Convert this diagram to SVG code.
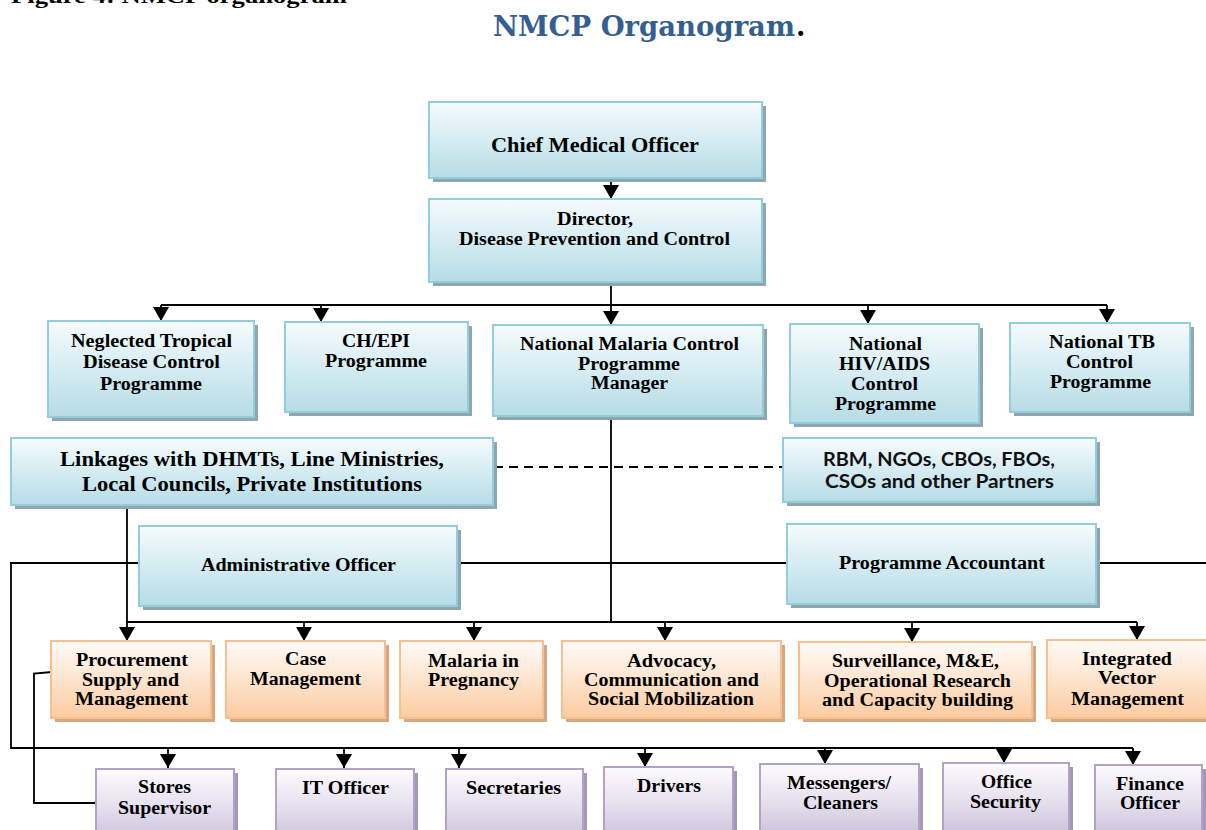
<svg xmlns="http://www.w3.org/2000/svg" width="1206" height="830" viewBox="0 0 1206 830">
<style>
.t{font-family:"Liberation Serif","Times New Roman",serif;font-weight:700;fill:#000}
.s{font-family:Lato,"Liberation Sans",sans-serif;font-weight:700;fill:#111}
.f18{font-size:18px}
.f20{font-size:20px}
.f21{font-size:20.5px}
.bb{fill:url(#gb);stroke:#93CDDD;stroke-width:2}
.bo{fill:url(#go);stroke:#F9BF8F;stroke-width:2}
.bp{fill:url(#gp);stroke:#B3A2C7;stroke-width:2}
.sb{fill:#8FA6AF}
.so{fill:#D6A882}
.sp{fill:#A597B6}
.c{fill:none;stroke:#000;stroke-width:1.8}
.a{marker-end:url(#arr)}
</style>
<defs>
<linearGradient id="gb" x1="0" y1="0" x2="0" y2="1"><stop offset="0" stop-color="#F6FBFD"/><stop offset="0.5" stop-color="#D5ECF2"/><stop offset="1" stop-color="#B6DCE6"/></linearGradient>
<linearGradient id="go" x1="0" y1="0" x2="0" y2="1"><stop offset="0" stop-color="#FFFBF8"/><stop offset="0.5" stop-color="#FDE4CE"/><stop offset="1" stop-color="#FBCBA0"/></linearGradient>
<linearGradient id="gp" x1="0" y1="0" x2="0" y2="1"><stop offset="0" stop-color="#FCFBFD"/><stop offset="0.5" stop-color="#E7E2EF"/><stop offset="1" stop-color="#CDC3DC"/></linearGradient>
<marker id="arr" viewBox="0 0 14 16" markerWidth="14" markerHeight="16" refX="14" refY="8" orient="auto" markerUnits="userSpaceOnUse"><path d="M0,0 L14,8 L0,16 z" fill="#000"/></marker>
</defs>
<rect width="1206" height="830" fill="#fff"/>
<text class="t" x="11" y="3" font-size="22" textLength="336" lengthAdjust="spacingAndGlyphs">Figure 4: NMCP organogram</text>
<text x="493" y="36" font-family="'DejaVu Serif','Liberation Serif',serif" font-weight="700" font-size="27" fill="#365F91" textLength="302" lengthAdjust="spacingAndGlyphs">NMCP Organogram</text>
<text x="796" y="36" font-family="'DejaVu Serif','Liberation Serif',serif" font-weight="700" font-size="27" fill="#000">.</text>

<g id="connectors">
<path class="c a" d="M611,178 V199"/>
<path class="c" d="M611,282 V305 M161,305 H1107"/>
<path class="c a" d="M161,305 V321"/>
<path class="c a" d="M321,305 V322"/>
<path class="c a" d="M611,305 V325"/>
<path class="c a" d="M868,305 V324"/>
<path class="c a" d="M1107,305 V323"/>
<path class="c" d="M494,467 H783" stroke-dasharray="9,6" style="stroke-width:2"/>
<path class="c" d="M611,415 V622"/>
<path class="c" d="M127,622 H1137"/>
<path class="c a" d="M127,505 V641"/>
<path class="c a" d="M304,622 V641"/>
<path class="c a" d="M474,622 V641"/>
<path class="c a" d="M665,622 V641"/>
<path class="c a" d="M912,622 V642"/>
<path class="c a" d="M1137,622 V640"/>
<path class="c" d="M139,563 H11 V748 H1133 M458,563 H787 M1096,563 H1206"/>
<path class="c a" d="M168,748 V768"/>
<path class="c a" d="M344,748 V768"/>
<path class="c a" d="M459,748 V768"/>
<path class="c a" d="M645,748 V767"/>
<path class="c a" d="M825,748 V764"/>
<path class="c a" d="M1004,748 V763"/>
<path class="c a" d="M1133,748 V765"/>
<path class="c" d="M52,672 L34,673.5 V803 H96"/>
<path class="c" d="M1203,803 H1206"/>
</g>

<g id="n-cmo">
<rect class="sb" x="433" y="106" width="333" height="76"/>
<rect class="bb" x="429" y="102" width="333" height="76"/>
<text class="t f20" x="491" y="152" textLength="208" lengthAdjust="spacingAndGlyphs">Chief Medical Officer</text>
</g>
<g id="n-director">
<rect class="sb" x="433" y="203" width="333" height="83"/>
<rect class="bb" x="429" y="199" width="333" height="83"/>
<text class="t f18" x="557" y="225" textLength="76" lengthAdjust="spacingAndGlyphs">Director,</text>
<text class="t f18" x="459" y="245" textLength="271" lengthAdjust="spacingAndGlyphs">Disease Prevention and Control</text>
</g>
<g id="n-ntd">
<rect class="sb" x="52" y="325" width="206" height="96"/>
<rect class="bb" x="48" y="321" width="206" height="96"/>
<text class="t f18" x="71" y="347" textLength="161" lengthAdjust="spacingAndGlyphs">Neglected Tropical</text>
<text class="t f18" x="83" y="368" textLength="137" lengthAdjust="spacingAndGlyphs">Disease Control</text>
<text class="t f18" x="100" y="390" textLength="102" lengthAdjust="spacingAndGlyphs">Programme</text>
</g>
<g id="n-chepi">
<rect class="sb" x="289" y="326" width="183" height="90"/>
<rect class="bb" x="285" y="322" width="183" height="90"/>
<text class="t f18" x="342" y="347" textLength="68" lengthAdjust="spacingAndGlyphs">CH/EPI</text>
<text class="t f18" x="325" y="367" textLength="102" lengthAdjust="spacingAndGlyphs">Programme</text>
</g>
<g id="n-nmcp">
<rect class="sb" x="497" y="329" width="270" height="91"/>
<rect class="bb" x="493" y="325" width="270" height="91"/>
<text class="t f18" x="520" y="350" textLength="219" lengthAdjust="spacingAndGlyphs">National Malaria Control</text>
<text class="t f18" x="578" y="370" textLength="102" lengthAdjust="spacingAndGlyphs">Programme</text>
<text class="t f18" x="591" y="389" textLength="77" lengthAdjust="spacingAndGlyphs">Manager</text>
</g>
<g id="n-hiv">
<rect class="sb" x="794" y="328" width="189" height="99"/>
<rect class="bb" x="790" y="324" width="189" height="99"/>
<text class="t f18" x="849" y="350" textLength="73" lengthAdjust="spacingAndGlyphs">National</text>
<text class="t f18" x="839" y="370" textLength="91" lengthAdjust="spacingAndGlyphs">HIV/AIDS</text>
<text class="t f18" x="851" y="390" textLength="67" lengthAdjust="spacingAndGlyphs">Control</text>
<text class="t f18" x="835" y="410" textLength="101" lengthAdjust="spacingAndGlyphs">Programme</text>
</g>
<g id="n-tb">
<rect class="sb" x="1014" y="327" width="180" height="89"/>
<rect class="bb" x="1010" y="323" width="180" height="89"/>
<text class="t f18" x="1049" y="348" textLength="106" lengthAdjust="spacingAndGlyphs">National TB</text>
<text class="t f18" x="1066" y="368" textLength="67" lengthAdjust="spacingAndGlyphs">Control</text>
<text class="t f18" x="1050" y="388" textLength="101" lengthAdjust="spacingAndGlyphs">Programme</text>
</g>
<g id="n-linkages">
<rect class="sb" x="15" y="442" width="482" height="67"/>
<rect class="bb" x="11" y="438" width="482" height="67"/>
<text class="t f21" x="60" y="466" textLength="384" lengthAdjust="spacingAndGlyphs">Linkages with DHMTs, Line Ministries,</text>
<text class="t f21" x="82" y="491" textLength="340" lengthAdjust="spacingAndGlyphs">Local Councils, Private Institutions</text>
</g>
<g id="n-partners">
<rect class="sb" x="787" y="442" width="313" height="64"/>
<rect class="bb" x="783" y="438" width="313" height="64"/>
<text class="s f18" x="823" y="466" textLength="232" lengthAdjust="spacingAndGlyphs">RBM, NGOs, CBOs, FBOs,</text>
<text class="s f18" x="825" y="488" textLength="229" lengthAdjust="spacingAndGlyphs">CSOs and other Partners</text>
</g>
<g id="n-admin">
<rect class="sb" x="143" y="530" width="318" height="80"/>
<rect class="bb" x="139" y="526" width="318" height="80"/>
<text class="t f18" x="201" y="571" textLength="195" lengthAdjust="spacingAndGlyphs">Administrative Officer</text>
</g>
<g id="n-accountant">
<rect class="sb" x="791" y="528" width="309" height="80"/>
<rect class="bb" x="787" y="524" width="309" height="80"/>
<text class="t f18" x="839" y="569" textLength="206" lengthAdjust="spacingAndGlyphs">Programme Accountant</text>
</g>
<g id="n-psm">
<rect class="so" x="55" y="645" width="160" height="77"/>
<rect class="bo" x="51" y="641" width="160" height="77"/>
<text class="t f18" x="76" y="666" textLength="112" lengthAdjust="spacingAndGlyphs">Procurement</text>
<text class="t f18" x="82" y="686" textLength="97" lengthAdjust="spacingAndGlyphs">Supply and</text>
<text class="t f18" x="75" y="705" textLength="113" lengthAdjust="spacingAndGlyphs">Management</text>
</g>
<g id="n-case">
<rect class="so" x="230" y="645" width="159" height="77"/>
<rect class="bo" x="226" y="641" width="159" height="77"/>
<text class="t f18" x="285" y="665" textLength="41" lengthAdjust="spacingAndGlyphs">Case</text>
<text class="t f18" x="250" y="685" textLength="111" lengthAdjust="spacingAndGlyphs">Management</text>
</g>
<g id="n-mip">
<rect class="so" x="404" y="645" width="143" height="77"/>
<rect class="bo" x="400" y="641" width="143" height="77"/>
<text class="t f18" x="428" y="667" textLength="91" lengthAdjust="spacingAndGlyphs">Malaria in</text>
<text class="t f18" x="428" y="686" textLength="91" lengthAdjust="spacingAndGlyphs">Pregnancy</text>
</g>
<g id="n-acsm">
<rect class="so" x="566" y="645" width="219" height="77"/>
<rect class="bo" x="562" y="641" width="219" height="77"/>
<text class="t f18" x="627" y="667" textLength="89" lengthAdjust="spacingAndGlyphs">Advocacy,</text>
<text class="t f18" x="584" y="686" textLength="175" lengthAdjust="spacingAndGlyphs">Communication and</text>
<text class="t f18" x="588" y="705" textLength="166" lengthAdjust="spacingAndGlyphs">Social Mobilization</text>
</g>
<g id="n-sme">
<rect class="so" x="803" y="646" width="233" height="76"/>
<rect class="bo" x="799" y="642" width="233" height="76"/>
<text class="t f18" x="832" y="667" textLength="167" lengthAdjust="spacingAndGlyphs">Surveillance, M&amp;E,</text>
<text class="t f18" x="824" y="687" textLength="187" lengthAdjust="spacingAndGlyphs">Operational Research</text>
<text class="t f18" x="822" y="706" textLength="191" lengthAdjust="spacingAndGlyphs">and Capacity building</text>
</g>
<g id="n-ivm">
<rect class="so" x="1051" y="644" width="165" height="78"/>
<rect class="bo" x="1047" y="640" width="165" height="78"/>
<text class="t f18" x="1082" y="665" textLength="90" lengthAdjust="spacingAndGlyphs">Integrated</text>
<text class="t f18" x="1098" y="684" textLength="58" lengthAdjust="spacingAndGlyphs">Vector</text>
<text class="t f18" x="1071" y="705" textLength="113" lengthAdjust="spacingAndGlyphs">Management</text>
</g>
<g id="n-stores">
<rect class="sp" x="100" y="773" width="138" height="70"/>
<rect class="bp" x="96" y="769" width="138" height="70"/>
<text class="t f18" x="138" y="793" textLength="53" lengthAdjust="spacingAndGlyphs">Stores</text>
<text class="t f18" x="118" y="814" textLength="93" lengthAdjust="spacingAndGlyphs">Supervisor</text>
</g>
<g id="n-it">
<rect class="sp" x="280" y="773" width="138" height="70"/>
<rect class="bp" x="276" y="769" width="138" height="70"/>
<text class="t f18" x="302" y="794" textLength="87" lengthAdjust="spacingAndGlyphs">IT Officer</text>
</g>
<g id="n-secretaries">
<rect class="sp" x="450" y="773" width="137" height="70"/>
<rect class="bp" x="446" y="769" width="137" height="70"/>
<text class="t f18" x="466" y="794" textLength="95" lengthAdjust="spacingAndGlyphs">Secretaries</text>
</g>
<g id="n-drivers">
<rect class="sp" x="608" y="771" width="129" height="70"/>
<rect class="bp" x="604" y="767" width="129" height="70"/>
<text class="t f18" x="637" y="792" textLength="64" lengthAdjust="spacingAndGlyphs">Drivers</text>
</g>
<g id="n-messengers">
<rect class="sp" x="764" y="768" width="159" height="70"/>
<rect class="bp" x="760" y="764" width="159" height="70"/>
<text class="t f18" x="787" y="789" textLength="104" lengthAdjust="spacingAndGlyphs">Messengers/</text>
<text class="t f18" x="803" y="809" textLength="75" lengthAdjust="spacingAndGlyphs">Cleaners</text>
</g>
<g id="n-security">
<rect class="sp" x="947" y="767" width="126" height="70"/>
<rect class="bp" x="943" y="763" width="126" height="70"/>
<text class="t f18" x="981" y="788" textLength="51" lengthAdjust="spacingAndGlyphs">Office</text>
<text class="t f18" x="970" y="808" textLength="71" lengthAdjust="spacingAndGlyphs">Security</text>
</g>
<g id="n-finance">
<rect class="sp" x="1099" y="769" width="107" height="70"/>
<rect class="bp" x="1095" y="765" width="107" height="70"/>
<text class="t f18" x="1116" y="790" textLength="68" lengthAdjust="spacingAndGlyphs">Finance</text>
<text class="t f18" x="1120" y="809" textLength="60" lengthAdjust="spacingAndGlyphs">Officer</text>
</g>
</svg>
